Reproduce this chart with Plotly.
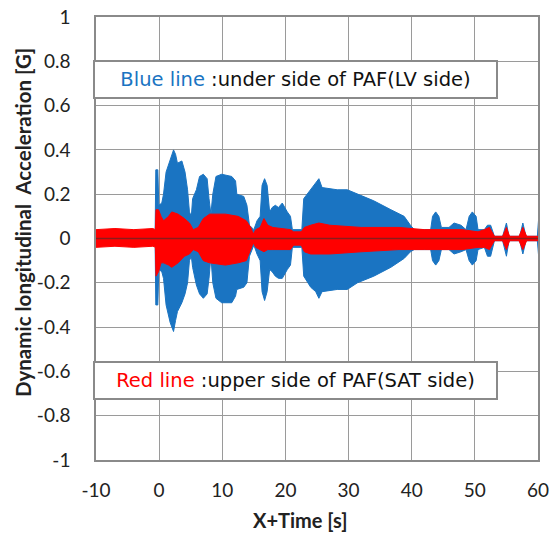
import plotly.graph_objects as go

# ---- data (envelopes of the vibration records, G) ----
# Blue line: under side of PAF (LV side)
blue_t = [-0.63, -0.53, -0.21, -0.05, 0.42, 0.69, 1.1, 1.75, 2.28, 2.6,
          2.9, 3.6, 4.1, 4.5, 4.8, 5.1, 5.3, 5.9, 6.4, 7.0,
          7.6, 7.9, 8.2, 8.5, 9.0, 9.9, 11.5, 12.1, 12.3, 13.4,
          13.9, 14.3, 15.0, 15.5, 16.0, 16.3, 16.7, 17.1, 17.5, 17.9,
          18.4, 18.9, 19.5, 20.3, 20.8, 21.1, 22.6, 22.9, 24.0, 24.8,
          25.3, 25.8, 28.2, 29.8, 31.4, 34.0, 36.7, 38.8, 39.8, 40.4,
          43.0, 43.3, 43.8, 44.3, 44.7, 45.9, 46.7, 47.8, 48.6, 49.1,
          49.6, 50.2, 50.5, 51.5, 52.0, 52.5, 53.1, 54.4, 55.0, 55.4,
          57.1, 57.6, 58.1, 59.9, 60.1]
blue_hi = [0.04, 0.31, 0.31, 0.15, 0.16, 0.20, 0.30, 0.36, 0.40, 0.38,
           0.34, 0.35, 0.30, 0.22, 0.12, 0.10, 0.18, 0.22, 0.28, 0.29,
           0.27, 0.18, 0.11, 0.20, 0.28, 0.29, 0.28, 0.26, 0.20, 0.19,
           0.15, 0.06, 0.04, 0.08, 0.10, 0.24, 0.27, 0.24, 0.12, 0.14,
           0.15, 0.14, 0.16, 0.12, 0.10, 0.04, 0.04, 0.18, 0.22, 0.25,
           0.27, 0.23, 0.22, 0.22, 0.20, 0.17, 0.13, 0.10, 0.06, 0.04,
           0.04, 0.10, 0.12, 0.10, 0.05, 0.05, 0.07, 0.06, 0.04, 0.10,
           0.12, 0.10, 0.04, 0.04, 0.06, 0.06, 0.01, 0.01, 0.07, 0.01,
           0.01, 0.07, 0.01, 0.01, 0.09]
blue_lo = [-0.04, -0.30, -0.30, -0.14, -0.15, -0.18, -0.30, -0.38, -0.42, -0.37,
           -0.33, -0.29, -0.25, -0.20, -0.10, -0.08, -0.13, -0.21, -0.25, -0.27,
           -0.25, -0.18, -0.08, -0.20, -0.27, -0.29, -0.29, -0.26, -0.23, -0.22,
           -0.20, -0.08, -0.03, -0.07, -0.10, -0.24, -0.28, -0.24, -0.14, -0.15,
           -0.17, -0.18, -0.18, -0.14, -0.12, -0.04, -0.04, -0.17, -0.22, -0.24,
           -0.27, -0.24, -0.23, -0.23, -0.20, -0.17, -0.13, -0.09, -0.06, -0.05,
           -0.05, -0.10, -0.12, -0.10, -0.05, -0.05, -0.07, -0.06, -0.05, -0.10,
           -0.12, -0.10, -0.05, -0.04, -0.08, -0.08, -0.01, -0.01, -0.08, -0.01,
           -0.01, -0.07, -0.01, -0.01, -0.08]

# Red line: upper side of PAF (SAT side)
red_t = [-10, -7, -4, -1, -0.6, -0.5, -0.1, 0.3, 0.7, 1.5,
         2.0, 3.0, 4.0, 4.8, 5.4, 6.2, 7.0, 8.0, 10.5, 12.5,
         13.8, 14.5, 14.9, 15.3, 16.0, 16.6, 17.2, 18.0, 20.8, 21.3,
         22.5, 23.0, 24.0, 25.3, 27.0, 32.0, 38.0, 42.0, 48.0, 50.5,
         51.5, 52.3, 53.1, 54.4, 55.0, 55.5, 57.0, 57.6, 58.2, 60.1]
red_hi = [0.04, 0.045, 0.04, 0.045, 0.04, 0.13, 0.13, 0.10, 0.08, 0.10,
          0.12, 0.11, 0.09, 0.07, 0.04, 0.05, 0.09, 0.11, 0.11, 0.10,
          0.08, 0.05, 0.02, 0.04, 0.05, 0.09, 0.06, 0.05, 0.04, 0.03,
          0.03, 0.05, 0.06, 0.07, 0.06, 0.05, 0.05, 0.04, 0.04, 0.03,
          0.04, 0.05, 0.01, 0.01, 0.05, 0.01, 0.01, 0.05, 0.01, 0.01]
red_lo = [-0.04, -0.035, -0.04, -0.035, -0.04, -0.17, -0.15, -0.11, -0.11, -0.12,
          -0.13, -0.11, -0.08, -0.07, -0.05, -0.06, -0.10, -0.11, -0.12, -0.11,
          -0.10, -0.05, -0.02, -0.04, -0.05, -0.06, -0.05, -0.05, -0.05, -0.03,
          -0.03, -0.06, -0.07, -0.07, -0.07, -0.06, -0.05, -0.05, -0.05, -0.04,
          -0.04, -0.05, -0.01, -0.01, -0.05, -0.01, -0.01, -0.05, -0.01, -0.01]

# mean (zero) trace seen through the records
mean_t = [-10, 60]
mean_v = [0, 0]

x_ticks = [-10, 0, 10, 20, 30, 40, 50, 60]
y_ticks = [-1, -0.8, -0.6, -0.4, -0.2, 0, 0.2, 0.4, 0.6, 0.8, 1]
y_labels = ["-1", "-0.8", "-0.6", "-0.4", "-0.2", "0", "0.2", "0.4", "0.6", "0.8", "1"]

BLUE = "#1a74c2"
RED = "#ff0000"

fig = go.Figure()
fig.add_trace(go.Scatter(x=blue_t + blue_t[::-1], y=blue_hi + blue_lo[::-1], fill="toself",
                         fillcolor=BLUE, line=dict(color=BLUE, width=1), mode="lines",
                         hoverinfo="skip", showlegend=False))
fig.add_trace(go.Scatter(x=red_t + red_t[::-1], y=red_hi + red_lo[::-1], fill="toself",
                         fillcolor=RED, line=dict(color=RED, width=1), mode="lines",
                         hoverinfo="skip", showlegend=False))
fig.add_trace(go.Scatter(x=mean_t, y=mean_v, mode="lines", line=dict(color="#8a1c1c", width=1.5),
                         hoverinfo="skip", showlegend=False))

axis_font = dict(family="Lato, Carlito, sans-serif", size=19, color="#222")
fig.update_xaxes(range=[-10, 60], tickvals=x_ticks, ticktext=[str(v) for v in x_ticks],
                 showgrid=True, gridcolor="#9a9a9a", gridwidth=1.3, zeroline=False,
                 showline=True, linecolor="#8a8a8a", linewidth=1.5, mirror=True,
                 tickfont=axis_font, ticks="", ticklabelstandoff=12, automargin=False)
fig.update_yaxes(range=[-1, 1], tickvals=y_ticks, ticktext=y_labels,
                 showgrid=True, gridcolor="#9a9a9a", gridwidth=1.3, zeroline=False,
                 showline=True, linecolor="#8a8a8a", linewidth=1.5, mirror=True,
                 tickfont=axis_font, ticks="", ticklabelstandoff=20, automargin=False)

PW, PH = 442, 443
title_font = dict(family="Lato, sans-serif", size=20, color="#222")
fig.add_annotation(xref="paper", yref="paper", x=(23 - 96) / PW, y=(460 - 223) / PH,
                   text="<b>Dynamic longitudinal  Acceleration [G]</b>", textangle=-90,
                   showarrow=False, font=dict(family="Lato, sans-serif", size=20.5, color="#222"),
                   xanchor="center", yanchor="middle")
fig.add_annotation(xref="paper", yref="paper", x=(300 - 96) / PW, y=(460 - 520) / PH,
                   text="<b>X+Time [s]</b>", showarrow=False, font=title_font,
                   xanchor="center", yanchor="middle")

box_font = dict(family="DejaVu Sans, sans-serif", size=19.5, color="#111")
fig.add_annotation(xref="paper", yref="paper", x=(93 - 96) / PW, y=(460 - 60) / PH, xanchor="left", yanchor="top",
                   text='<span style="color:%s">Blue line</span> :under side of PAF(LV side)' % BLUE,
                   showarrow=False, font=box_font, bgcolor="white", bordercolor="#8a8a8a", borderwidth=2,
                   width=401, height=35, align="center", borderpad=0)
fig.add_annotation(xref="paper", yref="paper", x=(93 - 96) / PW, y=(460 - 361) / PH, xanchor="left", yanchor="top",
                   text='<span style="color:%s">Red line</span> :upper side of PAF(SAT side)' % RED,
                   showarrow=False, font=box_font, bgcolor="white", bordercolor="#8a8a8a", borderwidth=2,
                   width=401, height=35, align="center", borderpad=0)

fig.update_layout(width=551, height=534, margin=dict(l=96, r=13, t=17, b=74),
                  paper_bgcolor="white", plot_bgcolor="white")

fig.write_html("out.html", config={"displayModeBar": False},
               post_script="document.body.style.margin='0';document.body.style.overflow='hidden';")
